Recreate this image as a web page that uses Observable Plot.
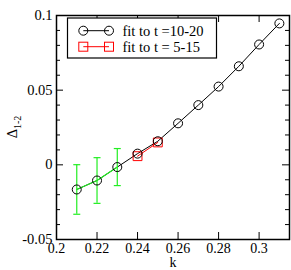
<!DOCTYPE html>
<html><head><meta charset="utf-8">
<script src="https://cdn.jsdelivr.net/npm/d3@7"></script>
<script src="https://cdn.jsdelivr.net/npm/@observablehq/plot@0.6"></script>
<style>body{margin:0;background:#fff}</style>
</head><body><div id="chart"></div>
<script>
const kFit1020 = [0.21, 0.22, 0.23, 0.24, 0.25, 0.26, 0.27, 0.28, 0.29, 0.30, 0.31];
const deltaFit1020 = [-0.0165, -0.0105, -0.0015, 0.0075, 0.0158, 0.0278, 0.0400, 0.0524, 0.0660, 0.0806, 0.0947];
const kErr = [0.21, 0.22, 0.23];
const deltaErr = [-0.0165, -0.0105, -0.0015];
const errBar = [0.0166, 0.0153, 0.0124];
const kFit515 = [0.24, 0.25];
const deltaFit515 = [0.0058, 0.0150];
const xTicks = [0.2, 0.22, 0.24, 0.26, 0.28, 0.3];
const yTicks = [-0.05, 0, 0.05, 0.1];
const yMinorTicks = [-0.04, -0.03, -0.02, -0.01, 0.01, 0.02, 0.03, 0.04, 0.06, 0.07, 0.08, 0.09];
const legendLabels = ["fit to t =10-20", "fit to t = 5-15"];
const xLabel = "k";

const fit1020 = kFit1020.map((k, i) => ({k, d: deltaFit1020[i]}));
const errData = kErr.map((k, i) => ({k, d: deltaErr[i], lo: deltaErr[i] - errBar[i], hi: deltaErr[i] + errBar[i]}));
const fit515 = kFit515.map((k, i) => ({k, d: deltaFit515[i]}));

const W = 291, H = 270, mL = 56, mT = 15, mR = 2, mB = 31;
const pw = W - mL - mR, ph = H - mT - mB;
const FONT = "Liberation Serif, Times New Roman, serif";
const GREEN = "#22ee22";

const cap = {draw(ctx, size) { const r = Math.sqrt(size / Math.PI); ctx.moveTo(-r, 0); ctx.lineTo(r, 0); }};
const fmt = d => String(+d.toFixed(3));

function legend(index, scales, values, dims) {
  const g = d3.create("svg:g").attr("font-family", FONT).attr("font-size", 14.5).attr("text-anchor", "start");
  g.append("rect").attr("x", 67.5).attr("y", 18).attr("width", 149).attr("height", 40)
    .attr("fill", "white").attr("stroke", "black").attr("stroke-width", 1.2);
  const rows = [30.7, 46.7];
  g.append("line").attr("x1", 83.3).attr("x2", 109).attr("y1", rows[0]).attr("y2", rows[0]).attr("stroke", "black");
  for (const cx of [83.3, 109]) g.append("circle").attr("cx", cx).attr("cy", rows[0]).attr("r", 4.5).attr("fill", "none").attr("stroke", "black");
  g.append("line").attr("x1", 83.3).attr("x2", 109).attr("y1", rows[1]).attr("y2", rows[1]).attr("stroke", "red");
  for (const cx of [83.3, 109]) g.append("rect").attr("x", cx - 4.5).attr("y", rows[1] - 4.5).attr("width", 9).attr("height", 9).attr("fill", "none").attr("stroke", "red");
  legendLabels.forEach((t, i) => g.append("text").attr("x", 122.5).attr("y", rows[i]).attr("dy", "0.35em").text(t));
  return g.node();
}

function yLabel() {
  const t = d3.create("svg:text").attr("font-family", FONT).attr("font-size", 14.5)
    .attr("transform", `translate(17,${mT + ph / 2}) rotate(-90)`).attr("text-anchor", "middle");
  t.append("tspan").text("Δ");
  t.append("tspan").attr("font-size", 10).attr("dy", 4).text("1-2");
  return t.node();
}

const plot = Plot.plot({
  width: W, height: H,
  marginLeft: mL, marginTop: mT, marginRight: mR, marginBottom: mB,
  style: {fontFamily: FONT, fontSize: "14.5px", background: "white", color: "black"},
  x: {domain: [0.2, 0.315], label: null},
  y: {domain: [-0.05, 0.1], label: null},
  marks: [
    Plot.tickX(xTicks, {x: d => d, insetTop: ph - 7, stroke: "black"}),
    Plot.tickX(xTicks, {x: d => d, insetBottom: ph - 7, stroke: "black"}),
    Plot.tickY(yTicks, {y: d => d, insetRight: pw - 7, stroke: "black"}),
    Plot.tickY(yTicks, {y: d => d, insetLeft: pw - 7, stroke: "black"}),
    Plot.tickY(yMinorTicks, {y: d => d, insetRight: pw - 4, stroke: "black"}),
    Plot.tickY(yMinorTicks, {y: d => d, insetLeft: pw - 4, stroke: "black"}),
    Plot.axisX({ticks: xTicks, tickSize: 0, tickPadding: 4, tickFormat: fmt, fontSize: 14}),
    Plot.axisY({ticks: yTicks, tickSize: 0, tickPadding: 4, tickFormat: fmt, fontSize: 14.5}),
    Plot.frame({stroke: "black", strokeWidth: 1.5}),
    Plot.line(fit1020, {x: "k", y: "d", stroke: "black", strokeWidth: 1}),
    Plot.line(errData, {x: "k", y: "d", stroke: GREEN, strokeWidth: 1.2}),
    Plot.ruleX(errData, {x: "k", y1: "lo", y2: "hi", stroke: GREEN, strokeWidth: 1.2}),
    Plot.dot(errData, {x: "k", y: "lo", symbol: cap, r: 3.5, stroke: GREEN, strokeWidth: 1.2}),
    Plot.dot(errData, {x: "k", y: "hi", symbol: cap, r: 3.5, stroke: GREEN, strokeWidth: 1.2}),
    Plot.line(fit515, {x: "k", y: "d", stroke: "red", strokeWidth: 1}),
    Plot.dot(fit515, {x: "k", y: "d", symbol: "square", r: 5, stroke: "red", fill: "none", strokeWidth: 1}),
    Plot.dot(fit1020, {x: "k", y: "d", r: 4.5, stroke: "black", fill: "none", strokeWidth: 1}),
    Plot.text([xLabel], {frameAnchor: "bottom", lineAnchor: "middle", dy: 23, text: d => d, fontSize: 14}),
    legend,
    yLabel
  ]
});
document.getElementById("chart").appendChild(plot);
</script>
</body></html>
